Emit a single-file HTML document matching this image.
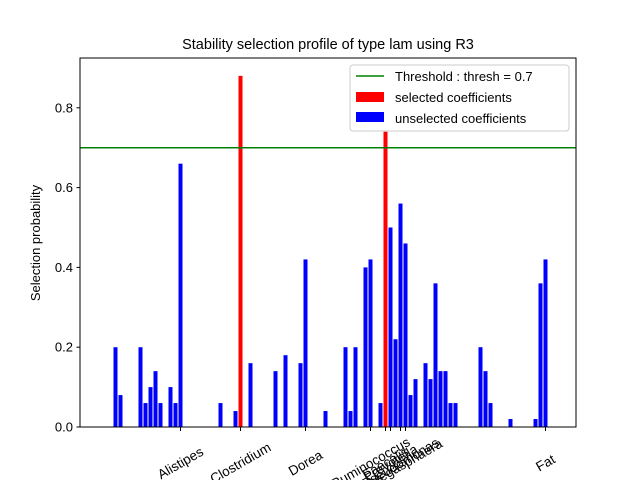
<!DOCTYPE html>
<html><head><meta charset="utf-8"><style>body{margin:0;background:#fff}svg{display:block;font-family:"Liberation Sans","DejaVu Sans",sans-serif}</style></head>
<body>
<svg id="chart" width="640" height="480" viewBox="0 0 640 480">
<rect x="0" y="0" width="640" height="480" fill="#fff"/>
<text x="328" y="49" font-size="14.5" text-anchor="middle">Stability selection profile of type lam using R3</text>
<g id="bars"></g>
<line x1="80" x2="576" y1="147.7" y2="147.7" stroke="#008000" stroke-width="1.5"/>
<rect x="80" y="58" width="496" height="369" fill="none" stroke="#000" stroke-width="1"/>
<g id="yaxis"></g>
<g id="xaxis"></g>
<text transform="translate(40,243) rotate(-90)" font-size="13" text-anchor="middle">Selection probability</text>
<g>
<rect x="350" y="65" width="219" height="66" fill="#fff" fill-opacity="0.8" stroke="#ccc" rx="3"/>
<line x1="356" x2="384" y1="76" y2="76" stroke="#008000" stroke-width="1.5"/>
<text x="395" y="81" font-size="13">Threshold : thresh = 0.7</text>
<rect x="356" y="92" width="28" height="10" fill="#f00"/>
<text x="395" y="102" font-size="13">selected coefficients</text>
<rect x="356" y="112" width="28" height="10" fill="#00f"/>
<text x="395" y="123" font-size="13">unselected coefficients</text>
</g>
</svg>
<script>
const barIndex=[0,1,5,6,7,8,9,11,12,13,21,24,25,27,32,34,37,38,42,46,47,48,50,51,53,54,55,56,57,58,59,60,62,63,64,65,66,67,68,73,74,75,79,84,85,86];
const barValues=[0.2,0.08,0.2,0.06,0.1,0.14,0.06,0.1,0.06,0.66,0.06,0.04,0.88,0.16,0.14,0.18,0.16,0.42,0.04,0.2,0.04,0.2,0.4,0.42,0.06,0.74,0.5,0.22,0.56,0.46,0.08,0.12,0.16,0.12,0.36,0.14,0.14,0.06,0.06,0.2,0.14,0.06,0.02,0.02,0.36,0.42];
const threshold=0.7;
const yTicks=[0,0.2,0.4,0.6,0.8];
const yTickLabels=["0.0","0.2","0.4","0.6","0.8"];
const xTickIndex=[13,25,38,51,54,55,57,58,86];
const xTickLabels=["Alistipes","Clostridium","Dorea","Ruminococcus","Faecalis","Prevotella","Pseudomonas","Megasphaera","Fat"];
const NS="http://www.w3.org/2000/svg";
function xs(i){return 115.5+5*i;}
function ys(v){return 427-v*399;}
function mk(t,a,p){const e=document.createElementNS(NS,t);for(const k in a)e.setAttribute(k,a[k]);p.appendChild(e);return e;}
const bars=document.getElementById('bars');
barIndex.forEach((idx,k)=>{const v=barValues[k];
const r=mk('rect',{x:xs(idx)-2,y:ys(v),width:4,height:427-ys(v),fill:v>threshold?'#f00':'#00f'},bars);

});
const ya=document.getElementById('yaxis');
yTicks.forEach((v,k)=>{mk('line',{x1:76.5,x2:80,y1:ys(v),y2:ys(v),stroke:'#000'},ya);
const t=mk('text',{x:73,y:ys(v)+4.5,'font-size':13,'text-anchor':'end'},ya);t.textContent=yTickLabels[k];

});
const xa=document.getElementById('xaxis');
xTickIndex.forEach((idx,k)=>{const x=xs(idx);mk('line',{x1:x,x2:x,y1:427,y2:431,stroke:'#000'},xa);
const t=mk('text',{transform:'translate('+x+',463) rotate(-30)',x:0,y:4.5,'font-size':13.5,'text-anchor':'middle'},xa);t.textContent=xTickLabels[k];

});
</script>
</body></html>
